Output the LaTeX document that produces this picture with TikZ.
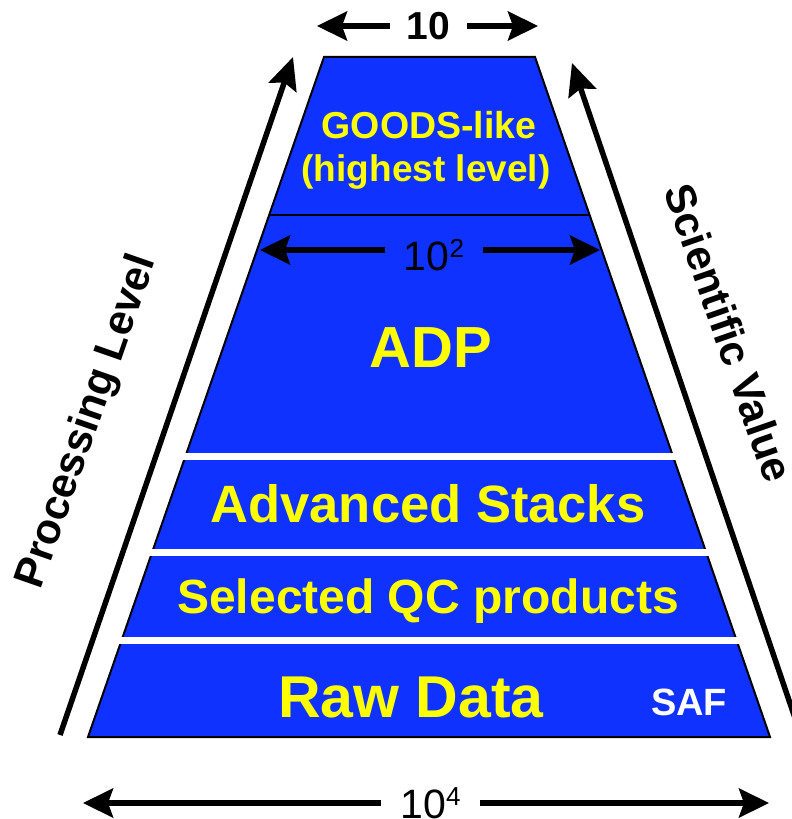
\documentclass[tikz,border=0pt]{standalone}
\usepackage{fontspec}
\setmainfont{Liberation Sans}
\usetikzlibrary{arrows.meta}
\definecolor{layerblue}{RGB}{16,50,255}
\definecolor{labelyellow}{RGB}{255,255,0}
\newcommand{\setfs}[1]{\fontsize{#1bp}{#1bp}\selectfont}

\begin{document}
\begin{tikzpicture}[x=1bp,y=-1bp,
  layertext/.style={text=labelyellow,inner sep=0pt,anchor=base},
  dimarrow/.style={-{Stealth[length=30bp,width=29bp,inset=5bp]},line width=5.5bp},
  sidearrow/.style={-{Stealth[length=32bp,width=29bp,inset=5bp]},line width=5.5bp},
  dimlabel/.style={inner xsep=0pt,inner ysep=0pt,text depth=0pt,align=center},
  sidelabel/.style={inner sep=0pt,font=\setfs{42.5}\bfseries}]
\useasboundingbox (0,0) rectangle (792,819);
\clip (0,0) rectangle (792,819);

% pyramid body
\coordinate (TL) at (324,57);
\coordinate (TR) at (535,57);
\coordinate (BR) at (770,737);
\coordinate (BL) at (88,737);
\filldraw[fill=layerblue,draw=black,line width=2bp,line join=miter]
  (TL) -- (TR) -- (BR) -- (BL) -- cycle;

% thin divider between the two upper levels
\coordinate (DL) at (269.2,215);
\coordinate (DR) at (589.7,215);
\draw[line width=2bp] (DL) -- (DR);

% white gaps between the lower levels
\fill[white] (172,453) rectangle (687,459.5);
\fill[white] (141,548.5) rectangle (718,555.5);
\fill[white] (110,637) rectangle (748,644);

% level names
\node[layertext,font=\setfs{37.5}\bfseries] (goods) at (429,138) {GOODS-like};
\node[layertext,font=\setfs{37}\bfseries] (highest) at (426,181) {(highest level)};
\node[layertext,font=\setfs{58}\bfseries] (adp) at (431,367) {ADP};
\node[layertext,font=\setfs{52.5}\bfseries] (adv) at (428,522) {Advanced Stacks};
\node[layertext,font=\setfs{48}\bfseries] (sel) at (428,613) {Selected QC products};
\node[layertext,font=\setfs{59}\bfseries] (raw) at (411,717) {Raw Data};
\node[layertext,text=white,font=\setfs{38}\bfseries] (saf) at (689,715) {SAF};

% width arrows
\node[dimlabel,minimum width=77bp,text height=28bp,font=\setfs{39}\bfseries] (w10) at (428.5,26) {10};
\coordinate (w10L) at (317,26);
\coordinate (w10R) at (538,26);
\draw[dimarrow] (w10.west) -- (w10L);
\draw[dimarrow] (w10.east) -- (w10R);

\node[dimlabel,minimum width=98bp,text height=40bp,font=\setfs{41}] (w100) at (434,250) {10\raisebox{13bp}{\setfs{26}2}};
\coordinate (w100L) at (260,250);
\coordinate (w100R) at (600,250);
\draw[dimarrow] (w100.west) -- (w100L);
\draw[dimarrow] (w100.east) -- (w100R);

\node[dimlabel,minimum width=99bp,text height=30bp,font=\setfs{41}] (w104) at (430.5,803) {10\raisebox{13bp}{\setfs{26}4}};
\coordinate (w104L) at (83,803);
\coordinate (w104R) at (769,803);
\draw[dimarrow] (w104.west) -- (w104L);
\draw[dimarrow] (w104.east) -- (w104R);

% side axes
\coordinate (plFoot) at (60,735);
\coordinate (plTip) at (293,57);
\draw[sidearrow] (plFoot) -- (plTip);
\coordinate (svFoot) at (811,765);
\coordinate (svTip) at (572,63);
\draw[sidearrow] (svFoot) -- (svTip);

\node[sidelabel,rotate=70.8] (proc) at (88,422) {Processing Level};
\node[sidelabel,rotate=-70.8] (sci) at (729,333) {Scientific Value};
\end{tikzpicture}
\end{document}
